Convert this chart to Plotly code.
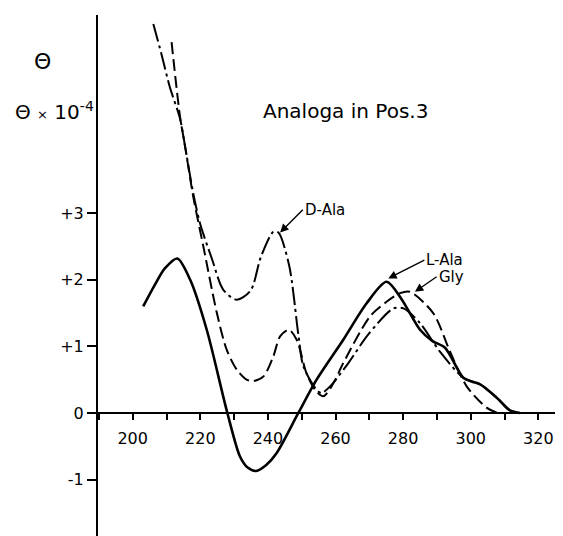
import plotly.graph_objects as go

# ---- data ----
l_ala_x = [203.1, 206.5, 209.5, 213.2, 217.0, 221.9, 228.0, 231.7, 234.0, 236.5, 239.5, 242.6, 249.0, 254.4,
           262.3, 269.1, 275.1, 279.4, 285.0, 288.7, 292.4, 297.8, 300.5, 302.8, 307.7, 311.6, 314.6]
l_ala_y = [1.60, 1.92, 2.17, 2.32, 2.00, 1.25, 0.00, -0.65, -0.82, -0.87, -0.78, -0.60, 0.00, 0.50,
           1.10, 1.64, 1.97, 1.72, 1.25, 1.08, 0.98, 0.53, 0.47, 0.43, 0.23, 0.04, 0.00]

d_ala_x = [206.1, 208.4, 211.0, 214.0, 215.5, 217.9, 219.9, 223.4, 226.8, 230.8, 234.9, 237.9, 241.6,
           243.1, 246.3, 249.0, 250.5, 254.4, 255.9, 258.4, 263.8, 269.7, 277.1, 280.1, 285.0, 290.9,
           297.8, 302.8, 307.7, 311.6, 314.6]
d_ala_y = [5.84, 5.41, 4.89, 4.42, 4.00, 3.30, 2.85, 2.32, 1.85, 1.70, 1.84, 2.34, 2.72,
           2.71, 2.21, 1.18, 0.70, 0.35, 0.30, 0.40, 0.75, 1.18, 1.57, 1.57, 1.35, 0.92,
           0.53, 0.43, 0.23, 0.04, 0.00]

gly_x = [211.5, 214.0, 215.5, 217.9, 220.9, 224.9, 227.8, 230.8, 233.7, 235.7, 238.7, 241.6, 243.6,
         246.2, 248.5, 251.4, 253.9, 256.4, 259.4, 262.3, 270.2, 275.1, 279.1, 282.0, 288.9, 293.9,
         298.8, 304.7, 308.0]
gly_y = [5.57, 4.45, 4.00, 3.25, 2.50, 1.50, 0.95, 0.65, 0.50, 0.48, 0.55, 0.85, 1.15,
         1.25, 1.10, 0.60, 0.35, 0.25, 0.45, 0.75, 1.45, 1.67, 1.80, 1.82, 1.50, 0.92,
         0.40, 0.08, 0.00]

x_ticks = [200, 220, 240, 260, 280, 300, 320]
y_tick_vals = [-1, 0, 1, 2, 3]
y_tick_text = ["-1", "0", "+1", "+2", "+3"]

labels = ["D-Ala", "L-Ala", "Gly"]
label_tip_x = [243.6, 275.6, 283.5]
label_tip_y = [2.71, 2.02, 1.82]

x_range = [189.73, 327.3]
y_range = [-1.847, 5.976]

FONT = "DejaVu Sans"

fig = go.Figure()
fig.add_trace(go.Scatter(x=l_ala_x, y=l_ala_y, mode="lines", name="L-Ala",
                         line=dict(color="black", width=2.6, shape="spline", smoothing=0.8)))
fig.add_trace(go.Scatter(x=d_ala_x, y=d_ala_y, mode="lines", name="D-Ala",
                         line=dict(color="black", width=2, shape="spline", smoothing=0.8,
                                   dash="18px,4px,3px,4px")))
fig.add_trace(go.Scatter(x=gly_x, y=gly_y, mode="lines", name="Gly",
                         line=dict(color="black", width=2, shape="spline", smoothing=0.8,
                                   dash="12px,5px")))

x_axis_pos = (0 - y_range[0]) / (y_range[1] - y_range[0])

# page body has an 8px default margin, so the figure is 8px smaller than the window
fig.update_layout(
    width=555, height=528,
    margin=dict(l=90, r=0, t=7, b=0, pad=0, autoexpand=False),
    paper_bgcolor="white", plot_bgcolor="white",
    showlegend=False,
    font=dict(family=FONT, size=16, color="black"),
    xaxis=dict(range=x_range, anchor="free", position=x_axis_pos, automargin=False,
               showline=True, linecolor="black", linewidth=2,
               showgrid=False, zeroline=False,
               tickmode="array", tickvals=x_ticks, ticks="outside", ticklen=6,
               tickwidth=2, tickcolor="black", ticklabelstandoff=5,
               minor=dict(dtick=10, tick0=200, ticks="outside", ticklen=6, tickwidth=2,
                          tickcolor="black", showgrid=False),
               tickfont=dict(family=FONT, size=16, color="black")),
    yaxis=dict(range=y_range, automargin=False, showline=True, linecolor="black", linewidth=2,
               showgrid=False, zeroline=False,
               tickmode="array", tickvals=y_tick_vals, ticktext=y_tick_text,
               ticks="outside", ticklen=9, tickwidth=2, tickcolor="black",
               tickfont=dict(family=FONT, size=16, color="black")),
)

# curve labels with arrows
arrow_dx = [22.7, 36.1, 21.7]
arrow_dy = [-22.7, -18.3, -15.0]
for t, tx, ty, dx, dy in zip(labels, label_tip_x, label_tip_y, arrow_dx, arrow_dy):
    fig.add_annotation(x=tx, y=ty, xref="x", yref="y", text=t, showarrow=True,
                       ax=dx, ay=dy, xanchor="left", yanchor="middle",
                       arrowhead=2, arrowsize=1.2, arrowwidth=1.4, arrowcolor="black",
                       standoff=0, font=dict(family=FONT, size=15, color="black"))

# axis title texts and panel title
fig.add_annotation(x=-0.1183, y=0.9098, xref="paper", yref="paper", text="Θ",
                   showarrow=False, xanchor="center", yanchor="middle",
                   font=dict(family=FONT, size=22, color="black"))
fig.add_annotation(x=-0.1828, y=0.8157, xref="paper", yref="paper",
                   text="Θ <span style='font-size:13px'>×</span> 10<sup>-4</sup>",
                   showarrow=False, xanchor="left", yanchor="middle",
                   font=dict(family=FONT, size=20, color="black"))
fig.add_annotation(x=0.3505, y=0.8157, xref="paper", yref="paper", text="Analoga in Pos.3",
                   showarrow=False, xanchor="left", yanchor="middle",
                   font=dict(family=FONT, size=20, color="black"))

fig.write_html("out.html")
